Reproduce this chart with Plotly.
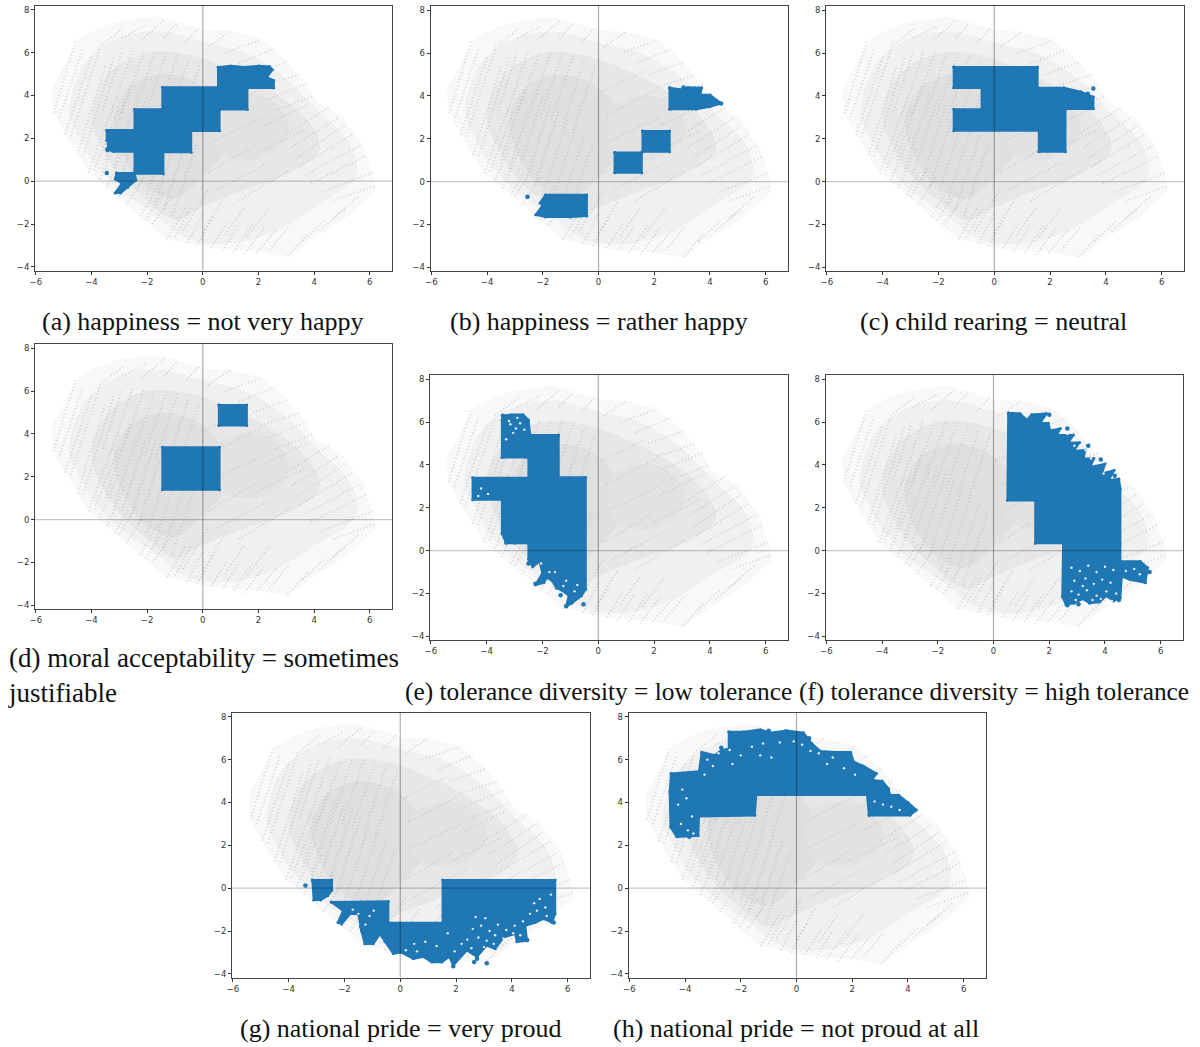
import plotly.graph_objects as go

# ---- shared grey background cloud (outlines, data units)
cloud_x = [-5.45,-5.0,-4.45,-3.8,-3.1,-1.75,-1.05,0.05,1.0,2.1,3.0,3.6,4.1,5.05,5.8,6.25,5.2,3.9,3.05,1.95,0.51,-0.57,-1.29,-2.25,-3.15,-4.1,-4.5,-4.95,-5.37]
cloud_y = [4.3,5.4,6.65,7.1,7.45,7.7,7.5,7.05,7.0,6.65,5.65,4.7,3.7,3.0,1.6,-0.4,-1.65,-2.75,-3.55,-3.3,-3.18,-2.88,-2.7,-1.63,-0.6,0.4,1.25,2.2,3.2]
layer2_x = [-4.8,-4.2,-3.0,-1.5,0.0,1.5,2.8,4.2,5.3,5.5,4.0,2.5,1.0,-0.5,-1.8,-3.0,-4.0,-4.5]
layer2_y = [3.2,5.6,6.7,7.0,6.5,6.0,5.0,3.2,1.7,0.2,-1.2,-2.4,-2.9,-2.7,-1.5,-0.4,1.0,2.2]
layer3_x = [-4.0,-3.4,-2.0,-0.5,1.0,2.5,3.8,4.2,3.0,1.5,0.0,-1.0,-2.0,-3.0,-3.6]
layer3_y = [3.0,5.0,6.0,5.9,5.2,4.2,2.8,1.5,0.3,-0.4,-1.2,-1.8,-0.9,0.3,1.5]
layer4_x = [-3.2,-2.6,-1.4,0.0,0.8,0.8,0.0,-1.0,-2.0,-2.8]
layer4_y = [3.0,4.4,5.0,4.4,3.0,1.5,0.2,-0.8,-0.3,1.0]
layer5_x = [0.5,2.0,3.0,3.0,1.8,0.5]
layer5_y = [3.5,4.0,3.0,2.0,1.0,1.5]
# streaks: x0, y0, x1, y1
streaks = [
(-5.37,3.2,-4.55,6.6),(-5.15,3.0,-4.3,6.2),(-4.95,2.2,-4.0,5.8),(-4.75,2.1,-3.7,6.2),(-4.5,1.25,-3.5,5.4),(-4.3,1.2,-3.2,5.8),
(-4.1,0.4,-3.2,3.6),(-3.9,0.5,-3.0,3.4),(-3.7,0.1,-3.0,2.2),(-3.45,-0.3,-2.8,1.6),(-3.15,-0.6,-2.7,0.4),(-3.0,-0.7,-2.4,0.6),(-2.75,-1.1,-2.1,0.2),
(-2.25,-1.63,-1.6,-0.2),(-2.05,-1.8,-1.4,-0.5),(-1.8,-2.0,-1.1,-0.7),(-1.29,-2.7,-0.6,-1.2),(-1.0,-2.6,-0.4,-1.2),
(-0.55,-2.88,0.0,-1.5),(-0.2,-3.0,0.4,-1.6),(0.3,-3.1,0.9,-1.9),(0.7,-3.25,1.3,-2.0),(1.1,-3.3,1.8,-2.0),(1.5,-3.4,2.2,-2.2),
(1.95,-3.3,2.7,-2.2),(2.4,-3.2,3.1,-2.1),(3.05,-3.5,3.8,-2.4),(3.6,-2.8,4.4,-1.8),(4.2,-2.3,5.1,-1.3),(4.7,-1.7,5.6,-0.7),
(3.0,2.2,4.6,3.5),(3.2,1.6,4.9,3.0),(3.4,1.1,5.1,2.6),(3.5,0.7,5.4,2.2),(3.7,0.3,5.7,1.7),(3.9,-0.1,5.9,1.2),(4.3,-0.5,6.1,0.4),(4.7,-0.9,6.2,-0.2),
(2.6,3.3,4.0,4.0),(2.3,3.8,3.8,4.6),(2.1,4.4,3.5,5.0),(1.8,5.0,3.1,5.6),(1.3,5.5,2.6,6.2),(0.8,6.0,2.1,6.6),(0.2,6.3,1.0,7.0),
(-2.9,6.7,-2.0,7.3),(-3.7,6.3,-2.8,7.2),(-1.4,6.7,-0.9,7.4),(-0.6,6.5,-0.1,7.2),(-2.2,6.6,-1.4,7.5),
(-3.5,1.0,-2.6,4.5),(-3.2,0.6,-2.3,4.2),(-2.9,0.4,-2.0,4.0),(-2.6,0.1,-1.7,3.7),(-2.3,-0.2,-1.4,3.4),(-2.0,-0.6,-1.1,3.0),(-1.7,-1.0,-0.8,2.6),(-1.4,-1.3,-0.5,2.2),(-1.1,-1.6,-0.2,1.8),
(-3.6,3.3,-2.9,6.1),(-3.3,3.1,-2.5,6.2),(-2.9,3.2,-2.1,6.1),(-2.5,3.0,-1.7,6.1),(-2.1,3.0,-1.3,6.0),(-1.7,2.9,-0.9,5.9),(-1.3,2.6,-0.5,5.7),(-0.9,2.4,-0.1,5.5),
(0.2,0.4,1.9,1.7),(0.4,1.9,2.2,3.0),(0.3,3.1,2.1,4.3),(0.1,4.2,1.7,5.2),(0.5,-0.4,2.4,0.9),(1.3,-0.9,3.1,0.5),(1.9,1.3,3.7,2.4),(2.2,2.6,3.8,3.6),
(-0.7,-2.3,0.2,-0.4),(0.0,-2.4,0.7,-0.9),(0.8,-2.5,1.5,-1.2),(1.6,-2.6,2.4,-1.2),
]

# ---- blue regions, one outline per region
a_x = [[-3.45,-2.45,-2.45,-1.45,-1.45,0.55,0.55,1.0,1.5,2.0,2.4,2.5,2.3,2.55,2.55,1.6,1.6,0.6,0.6,-0.42,-0.42,-1.42,-1.42,-2.45,-2.45,-3.2,-3.45,-3.35,-3.45],
       [-3.1,-2.45,-2.4,-2.7,-2.95,-3.15,-2.9,-3.15]]
a_y = [[2.38,2.38,3.35,3.35,4.38,4.38,5.32,5.38,5.32,5.38,5.35,5.2,4.85,4.7,4.35,4.35,3.35,3.35,2.35,2.35,1.35,1.35,0.35,0.35,1.38,1.38,1.5,1.75,1.9],
       [0.38,0.38,0.05,-0.3,-0.55,-0.55,-0.1,0.1]]
a_pts_x = [-3.45,-3.42,-3.38]
a_pts_y = [0.38,1.45,1.75]

b_x = [[2.55,3.0,3.2,3.7,3.65,4.0,4.4,4.0,3.5,2.55],[1.58,2.55,2.55,1.58],[0.58,1.55,1.55,0.58],[-1.9,-0.42,-0.42,-1.0,-1.9,-2.25,-2.0,-2.1]]
b_y = [[4.38,4.3,4.4,4.38,4.05,4.05,3.65,3.5,3.38,3.38],[2.36,2.36,1.4,1.4],[1.36,1.36,0.42,0.42],[-0.62,-0.62,-1.6,-1.65,-1.65,-1.55,-1.1,-1.0]]
b_pts_x = [-2.55,4.4,3.05]
b_pts_y = [-0.7,3.65,4.4]

c_x = [[-1.45,1.55,1.55,2.5,3.1,3.55,3.55,2.55,2.55,1.6,1.6,-1.45,-1.45,-0.45,-0.45,-1.45]]
c_y = [[5.35,5.35,4.38,4.38,4.2,3.95,3.4,3.4,1.4,1.4,2.38,2.38,3.38,3.38,4.38,4.38]]
c_pts_x = [3.55,3.35]
c_pts_y = [4.35,4.1]

d_x = [[-1.45,0.6,0.6,-1.45],[0.58,1.58,1.58,0.58]]
d_y = [[3.38,3.38,1.4,1.4],[5.35,5.35,4.4,4.4]]
d_pts_x = []
d_pts_y = []

e_x = [[-3.4,-3.1,-2.7,-2.5,-2.45,-2.45,-1.42,-1.42,-0.45,-0.45,-0.6,-0.95,-1.15,-1.05,-1.3,-1.5,-1.65,-1.85,-1.95,-2.25,-2.0,-2.1,-2.35,-2.5,-2.5,-3.0,-3.3,-3.45,-3.45,-4.5,-4.5,-2.5,-2.5,-3.45,-3.45]]
e_y = [[6.3,6.35,6.35,6.1,5.5,5.4,5.4,3.42,3.42,-1.8,-2.1,-2.45,-2.6,-2.1,-1.85,-1.75,-1.4,-1.25,-1.5,-1.6,-1.05,-0.5,-0.75,-0.4,0.35,0.35,0.35,0.8,2.38,2.38,3.4,3.4,4.35,4.35,6.1]]
e_pts_x = [-3.42,-1.35,-0.53,-1.15,-2.5,-3.3,-2.25]
e_pts_y = [6.3,-2.08,-2.5,-2.6,-0.6,0.4,-1.55]
e_gap_x = [-3.15,-2.95,-2.8,-3.05,-2.65,-3.3,-2.9,-3.2,-4.2,-3.95,-4.3,-1.75,-1.15,-1.25,-1.55,-2.05,-2.15,-0.85,-0.75]
e_gap_y = [5.9,5.7,5.95,5.5,5.65,5.2,6.2,6.05,2.9,2.65,2.55,-1.0,-1.4,-1.65,-1.0,-0.6,-0.85,-1.9,-1.6]

f_x = [[0.53,0.95,1.2,1.37,1.9,1.67,1.97,2.03,2.4,2.27,2.87,2.69,3.09,2.87,3.29,3.23,3.6,3.47,4.0,3.89,4.33,4.13,4.5,4.55,4.55,5.27,5.53,5.45,4.9,4.6,4.55,4.3,4.05,3.8,3.45,3.2,2.9,2.6,2.47,2.5,1.5,1.5,0.5]]
f_y = [[6.43,6.4,6.1,6.35,6.4,5.95,5.95,5.6,5.7,5.4,5.4,5.05,5.05,4.65,4.7,4.3,4.3,3.9,4.05,3.6,3.75,3.3,3.35,2.9,-0.5,-0.5,-0.8,-1.5,-1.35,-1.2,-2.2,-2.35,-2.1,-2.4,-2.45,-2.25,-2.45,-2.5,-2.15,0.35,0.35,2.35,2.35]]
f_pts_x = [2.0,2.65,3.4,3.85,4.35,4.95,5.6,2.65,3.05,4.5]
f_pts_y = [6.35,5.7,4.9,4.25,3.5,-1.05,-1.0,-2.55,-2.5,-2.3]
f_gap_x = [2.8,3.1,3.4,3.7,4.0,4.3,2.9,3.3,3.6,3.9,4.2,2.8,3.05,3.35,3.7,4.05,4.4,2.95,3.55,3.85,4.25,3.2,4.75,5.05,5.25,3.0,3.5,2.65,3.95,3.3,2.4,2.9]
f_gap_y = [-0.8,-0.95,-0.7,-1.0,-0.75,-0.9,-1.4,-1.3,-1.55,-1.35,-1.5,-1.9,-2.05,-1.85,-2.1,-1.9,-2.0,-2.3,-2.3,-2.25,-2.35,-1.65,-0.95,-0.85,-1.1,5.2,4.3,5.45,3.6,4.7,5.9,4.9]

g_x = [[-3.15,-2.45,-2.45,-2.6,-2.85,-3.1],[-2.47,-0.43,-0.43,1.52,1.52,5.55,5.55,5.44,5.14,4.84,4.48,4.54,4.18,4.12,3.7,3.4,3.1,2.75,2.39,1.9,1.76,1.49,1.13,0.83,0.47,0.05,-0.25,-0.55,-0.73,-0.97,-1.27,-1.39,-1.5,-1.8,-2.1,-2.23,-2.05]]
g_y = [[0.38,0.38,-0.1,-0.35,-0.55,-0.55],[-0.65,-0.62,-1.62,-1.62,0.38,0.38,-1.2,-1.6,-1.43,-1.6,-1.75,-2.45,-2.5,-2.13,-2.3,-2.83,-2.67,-3.2,-2.9,-3.6,-3.2,-3.45,-3.45,-3.2,-3.3,-3.0,-3.05,-2.5,-2.13,-2.6,-2.6,-2.0,-1.2,-1.2,-1.67,-1.6,-1.05]]
g_pts_x = [-3.4,3.1,2.65,1.9,2.75,4.55,5.5,-1.4]
g_pts_y = [0.12,-3.5,-3.45,-3.65,-3.3,-2.42,-1.6,-1.8]
g_gap_x = [2.6,2.9,3.2,3.5,3.8,4.1,4.4,2.4,2.8,3.1,3.4,3.7,4.05,4.3,4.65,2.55,3.0,3.35,3.75,2.2,2.7,3.05,0.5,0.9,0.2,0.6,1.3,1.7,5.0,5.2,5.4,4.9,5.25,-1.1,-1.25,-0.95,-1.5,-1.7,4.8,1.95]
g_gap_y = [-1.9,-1.75,-2.0,-1.7,-1.95,-1.75,-1.55,-2.4,-2.3,-2.45,-2.2,-2.35,-2.1,-2.2,-1.2,-2.8,-2.75,-2.6,-2.7,-2.6,-1.35,-1.4,-2.6,-2.5,-2.9,-2.95,-2.7,-2.1,-0.5,-0.9,-0.3,-1.05,-1.3,-1.3,-1.7,-1.05,-1.2,-1.0,-0.7,-2.95]

h_x = [[-4.5,-3.5,-3.4,-2.93,-2.69,-2.43,-2.43,-1.91,-1.3,-0.95,-0.35,0.25,0.55,0.85,1.4,1.94,2.05,2.4,2.87,2.7,3.07,3.3,3.36,3.66,4.0,4.3,4.07,2.6,2.53,-1.45,-1.5,-3.5,-3.53,-4.3,-4.52,-4.55]]
h_y = [[5.35,5.45,6.35,6.2,6.45,6.5,7.3,7.3,7.4,7.25,7.35,7.25,6.75,6.4,6.35,6.35,5.9,5.7,5.35,5.05,5.0,4.65,4.35,4.35,4.0,3.65,3.4,3.4,4.35,4.35,3.4,3.35,2.45,2.4,2.85,4.5]]
h_pts_x = [-1.0,-0.4,0.45,1.55,2.2,3.9,4.2,-2.7,-3.85]
h_pts_y = [7.35,7.3,7.0,6.3,5.6,3.95,3.6,6.55,2.4]
h_gap_x = [-4.15,-3.9,-3.75,-4.25,-3.95,-4.1,-3.7,-3.2,-2.8,-2.4,-2.0,-1.6,-1.2,-0.6,0.2,0.8,1.3,1.7,2.1,-3.0,-2.3,-1.3,-0.9,0.5,1.1,3.1,3.4,3.7,2.8,-0.1,-3.3]
h_gap_y = [3.0,2.7,3.35,3.9,4.2,4.6,2.55,6.0,6.3,6.45,6.2,6.6,6.75,6.8,6.7,6.3,6.1,5.6,5.3,5.7,5.8,6.2,6.1,6.4,5.8,3.9,3.8,3.65,4.05,6.85,5.3]

captions_a_to_h = [
    "(a) happiness = not very happy", "(b) happiness = rather happy", "(c) child rearing = neutral",
    "(d) moral acceptability = sometimes<br>justifiable", "(e) tolerance diversity = low tolerance",
    "(f) tolerance diversity = high tolerance", "(g) national pride = very proud", "(h) national pride = not proud at all",
]
x_ticks = [-6,-4,-2,0,2,4,6]
y_ticks = [-4,-2,0,2,4,6,8]
x_range = [-6.03,6.8]
y_range = [-4.17,8.2]

panels = [
    (a_x,a_y,a_pts_x,a_pts_y,[],[]),(b_x,b_y,b_pts_x,b_pts_y,[],[]),(c_x,c_y,c_pts_x,c_pts_y,[],[]),
    (d_x,d_y,d_pts_x,d_pts_y,[],[]),(e_x,e_y,e_pts_x,e_pts_y,e_gap_x,e_gap_y),(f_x,f_y,f_pts_x,f_pts_y,f_gap_x,f_gap_y),
    (g_x,g_y,g_pts_x,g_pts_y,g_gap_x,g_gap_y),(h_x,h_y,h_pts_x,h_pts_y,h_gap_x,h_gap_y),
]
# axes rectangles in picture pixels: left, right, top, bottom
rects = [(35,392,5.5,270.5),(430.5,788,6,271),(826,1184,6,271),(35,392,344,609),
         (430,788,375,640),(825.5,1183,375,640),(232,590,712.5,977.5),(628.5,986,712.5,977.5)]
cap_pos = [(202.5,321,"center",26),(598.5,321,"center",26),(993.5,321,"center",26),(6,675.5,"left",27),
           (598,691,"center",25.4),(993.5,691,"center",25.3),(400.5,1028,"center",26),(796,1028,"center",26)]

W,H = 1200,1047
BLUE = "#1f77b4"
fig = go.Figure()
layout = {}
stx, sty = [], []
for s in streaks:
    stx += [s[0],s[2],None]; sty += [s[1],s[3],None]
soft = [(cloud_x,cloud_y,"#f8f8f8",False),(layer2_x,layer2_y,"#f0f0f0",True),(layer3_x,layer3_y,"#e7e7e7",True),
        (layer4_x,layer4_y,"#dfdfdf",True),(layer5_x,layer5_y,"#e2e2e2",True)]

def axis(domain, rng, other, ticks):
    return dict(domain=domain,range=rng,anchor=other,tickvals=ticks,ticktext=[str(v).replace("-","\u2212") for v in ticks],
        ticks="outside",ticklen=3,tickwidth=0.8,tickcolor="#333",showgrid=False,zeroline=False,showline=True,mirror=True,linecolor="#444",linewidth=1,
        tickfont=dict(family="DejaVu Sans",size=8.5,color="#333"),fixedrange=True,automargin=False)

for i,(bx,by,px,py,gx,gy) in enumerate(panels):
    n = "" if i==0 else str(i+1)
    xa,ya = "x"+n,"y"+n
    l,r,t,b = rects[i]
    layout["xaxis"+n] = axis([l/W,r/W],x_range,ya,x_ticks)
    layout["yaxis"+n] = axis([1-b/H,1-t/H],y_range,xa,y_ticks)
    common = dict(xaxis=xa,yaxis=ya,showlegend=False,hoverinfo="skip")
    for sx,sy,col,sm in soft:
        line = dict(width=0,shape="spline",smoothing=1) if sm else dict(width=0)
        fig.add_trace(go.Scatter(x=sx+sx[:1],y=sy+sy[:1],mode="lines",fill="toself",fillcolor=col,line=line,**common))
    fig.add_trace(go.Scatter(x=stx,y=sty,mode="lines",line=dict(color="rgba(175,175,175,0.5)",width=1.8,dash="1px,2.5px"),**common))
    for xs,ys in zip(bx,by):
        fig.add_trace(go.Scatter(x=xs+xs[:1],y=ys+ys[:1],mode="lines+markers",fill="toself",fillcolor=BLUE,
                                 line=dict(color=BLUE,width=2.2),marker=dict(color=BLUE,size=3),**common))
    if gx:
        fig.add_trace(go.Scatter(x=gx,y=gy,mode="markers",marker=dict(color="#e8eef3",size=2.4),**common))
    if px:
        fig.add_trace(go.Scatter(x=px,y=py,mode="markers",marker=dict(color=BLUE,size=4.5),**common))
    fig.add_trace(go.Scatter(x=[x_range[0],x_range[1]],y=[0,0],mode="lines",line=dict(color="rgba(0,0,0,0.22)",width=1.2),**common))
    fig.add_trace(go.Scatter(x=[0,0],y=[y_range[0],y_range[1]],mode="lines",line=dict(color="rgba(0,0,0,0.32)",width=1.2),**common))

annotations = []
for text,(cx,cy,al,fs) in zip(captions_a_to_h,cap_pos):
    annotations.append(dict(text=text,xref="paper",yref="paper",x=cx/W,y=1-cy/H,xanchor=al,yanchor="middle",align="left",showarrow=False,
        font=dict(family="Liberation Serif",size=fs,color="#111")))

fig.update_layout(width=W,height=H,margin=dict(l=0,r=0,t=0,b=0),paper_bgcolor="white",plot_bgcolor="white",annotations=annotations,**layout)
fig.write_html("out.html", config={"displayModeBar":False}, post_script="document.body.style.margin='0';document.documentElement.style.overflow='hidden';")
